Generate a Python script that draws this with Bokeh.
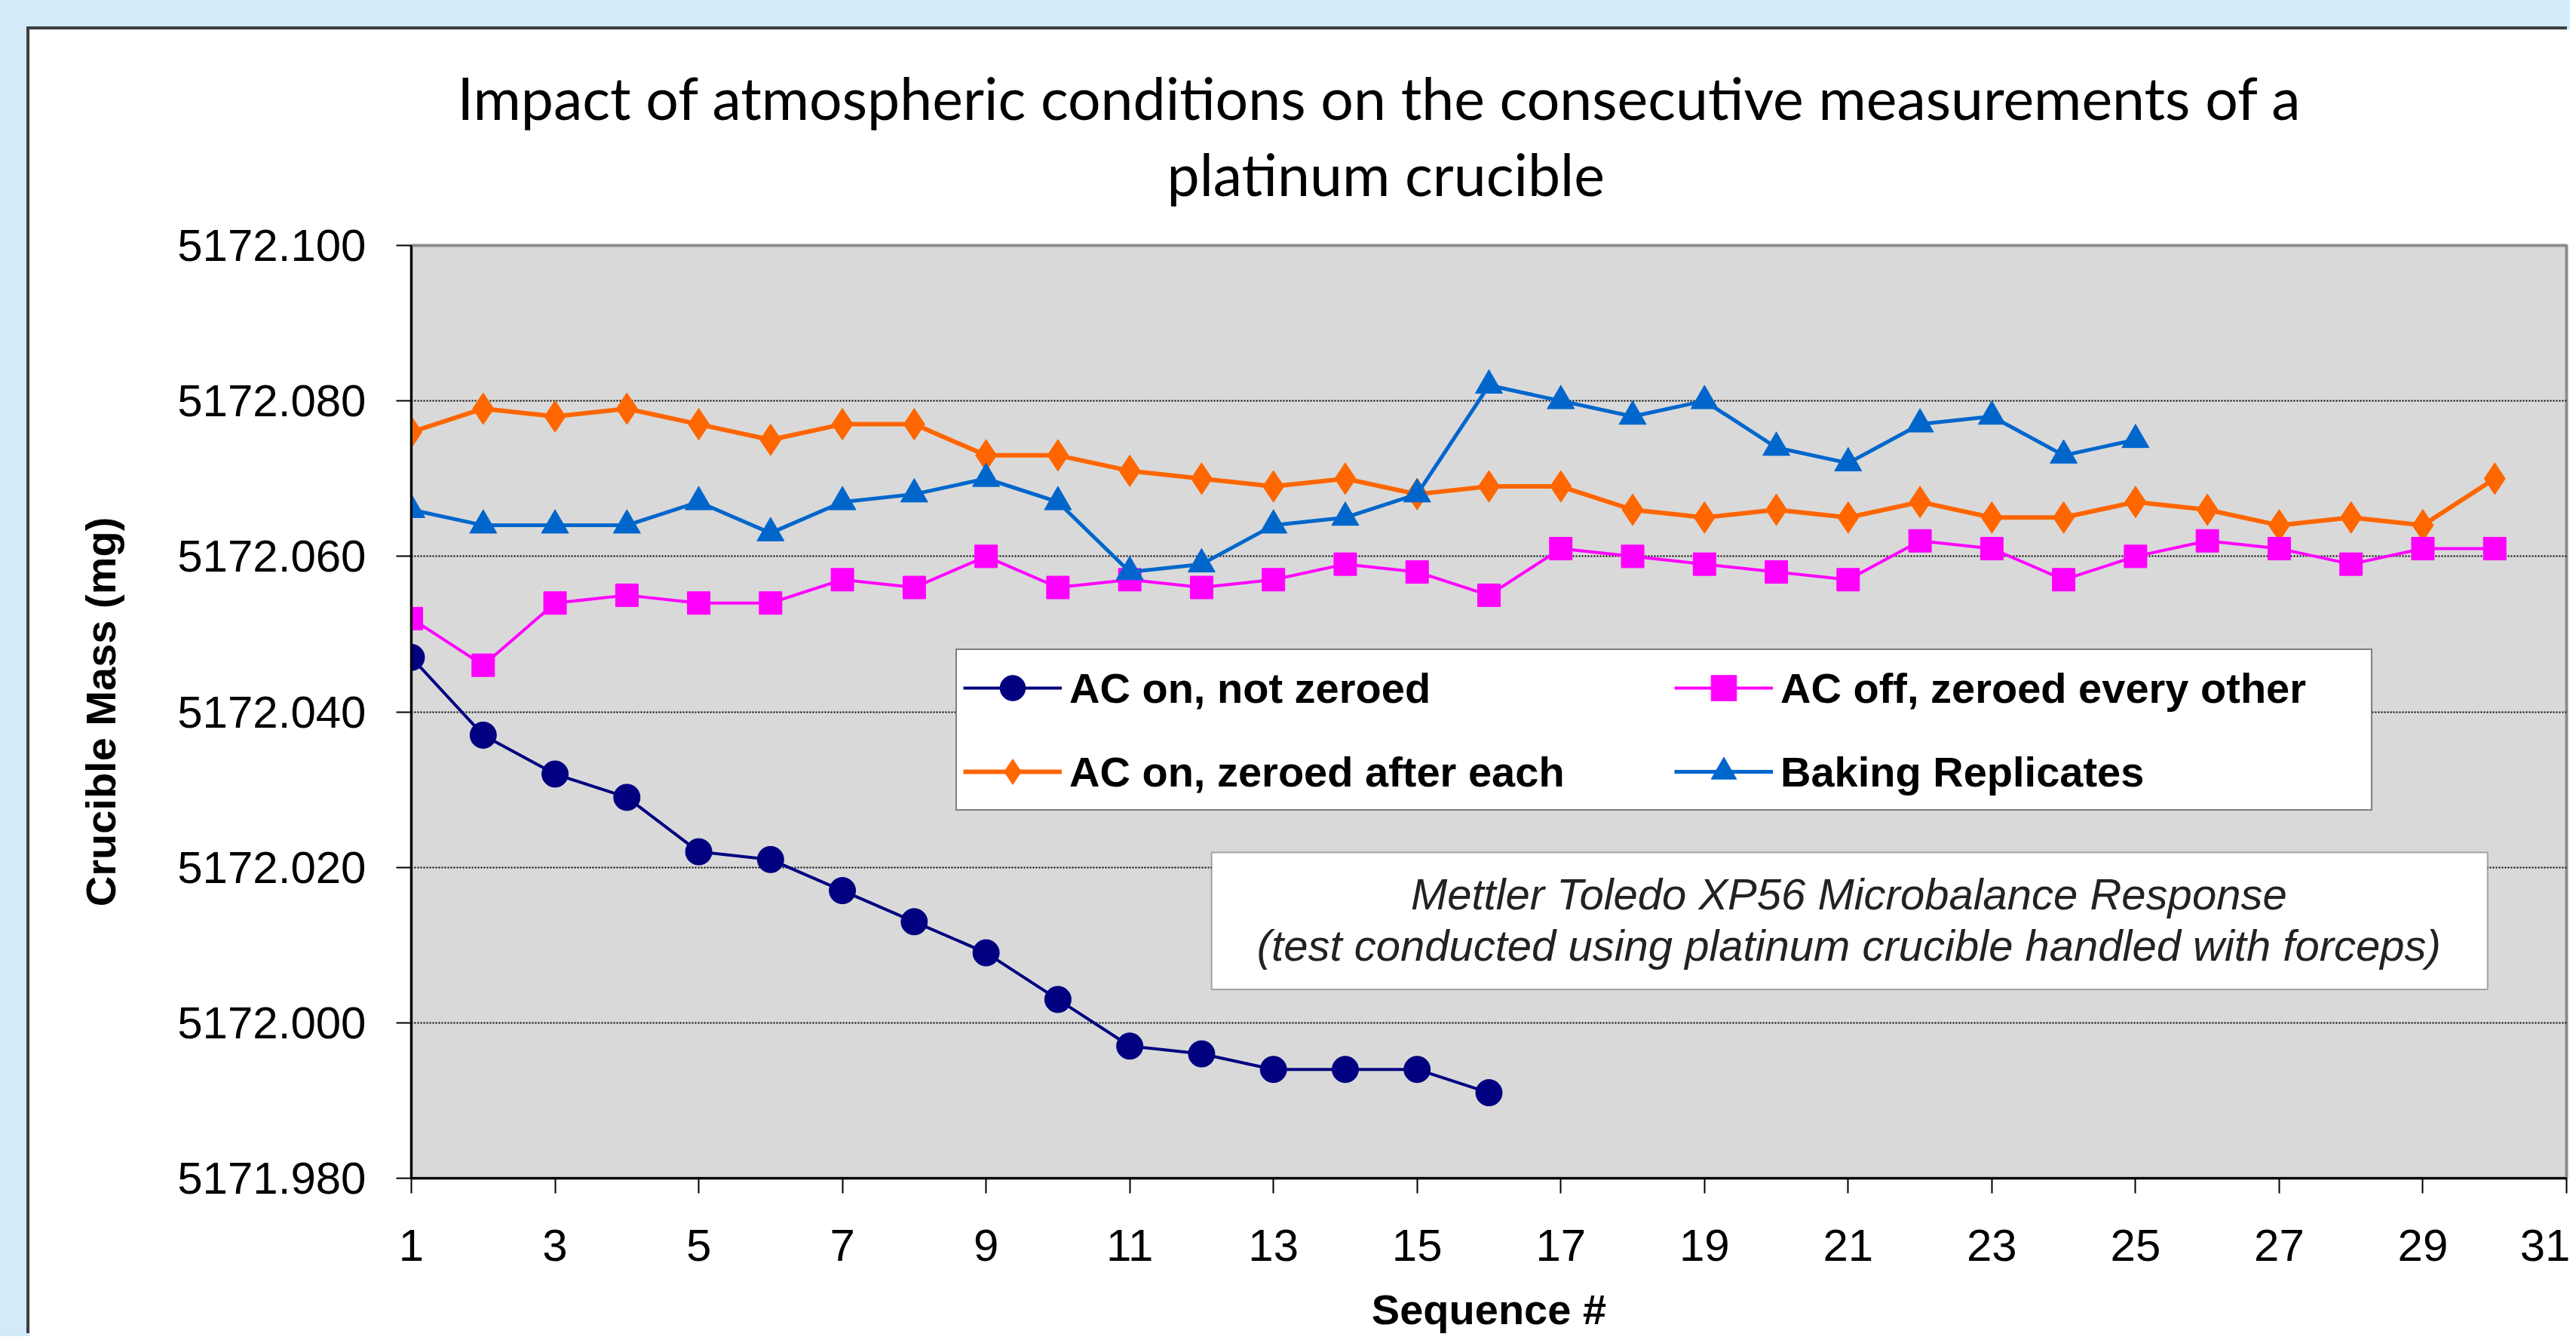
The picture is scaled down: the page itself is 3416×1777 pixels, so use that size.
from bokeh.plotting import figure
from bokeh.models import (FixedTicker, NumeralTickFormatter, Legend, LegendItem, Label,
                          BoxAnnotation, Range1d, Spacer, Title)
from bokeh.layouts import column, row
from bokeh.embed import file_html
from bokeh.resources import INLINE

# ---------------- data ----------------
seq_16 = [1, 2, 3, 4, 5, 6, 7, 8, 9, 10, 11, 12, 13, 14, 15, 16]
seq_25 = [1, 2, 3, 4, 5, 6, 7, 8, 9, 10, 11, 12, 13, 14, 15, 16, 17, 18, 19, 20, 21, 22, 23, 24, 25]
seq_30 = [1, 2, 3, 4, 5, 6, 7, 8, 9, 10, 11, 12, 13, 14, 15, 16, 17, 18, 19, 20,
          21, 22, 23, 24, 25, 26, 27, 28, 29, 30]

ac_on_not_zeroed = [5172.047, 5172.037, 5172.032, 5172.029, 5172.022, 5172.021, 5172.017, 5172.013,
                    5172.009, 5172.003, 5171.997, 5171.996, 5171.994, 5171.994, 5171.994, 5171.991]

ac_on_zeroed_each = [5172.076, 5172.079, 5172.078, 5172.079, 5172.077, 5172.075, 5172.077, 5172.077,
                     5172.073, 5172.073, 5172.071, 5172.070, 5172.069, 5172.070, 5172.068, 5172.069,
                     5172.069, 5172.066, 5172.065, 5172.066, 5172.065, 5172.067, 5172.065, 5172.065,
                     5172.067, 5172.066, 5172.064, 5172.065, 5172.064, 5172.070]

ac_off_zeroed_other = [5172.052, 5172.046, 5172.054, 5172.055, 5172.054, 5172.054, 5172.057, 5172.056,
                       5172.060, 5172.056, 5172.057, 5172.056, 5172.057, 5172.059, 5172.058, 5172.055,
                       5172.061, 5172.060, 5172.059, 5172.058, 5172.057, 5172.062, 5172.061, 5172.057,
                       5172.060, 5172.062, 5172.061, 5172.059, 5172.061, 5172.061]

baking_replicates = [5172.066, 5172.064, 5172.064, 5172.064, 5172.067, 5172.063, 5172.067, 5172.068,
                     5172.070, 5172.067, 5172.058, 5172.059, 5172.064, 5172.065, 5172.068, 5172.082,
                     5172.080, 5172.078, 5172.080, 5172.074, 5172.072, 5172.077, 5172.078, 5172.073,
                     5172.075]

x_ticks = [1, 3, 5, 7, 9, 11, 13, 15, 17, 19, 21, 23, 25, 27, 29, 31]
y_ticks = [5171.98, 5172.00, 5172.02, 5172.04, 5172.06, 5172.08, 5172.10]

title_line1 = "Impact of atmospheric conditions on the consecutive measurements of a"
title_line2 = "platinum crucible"
note_line1 = "Mettler Toledo XP56 Microbalance Response"
note_line2 = "(test conducted using platinum crucible handled with forceps)"

# ---------------- figure ----------------
p = figure(frame_width=2858, frame_height=1237,
           min_border_left=506, min_border_top=286, min_border_right=5, min_border_bottom=210,
           x_range=Range1d(1, 31), y_range=Range1d(5171.98, 5172.10),
           output_backend="svg", toolbar_location=None,
           background_fill_color="#D9D9D9", border_fill_color="white")
p.styles = {"box-shadow": "-4px -4px 0px 0px #3f3f3f"}

p.outline_line_color = "#8c8c8c"
p.outline_line_width = 4

p.xgrid.visible = False
p.ygrid.grid_line_color = "black"
p.ygrid.grid_line_dash = "2 2"
p.ygrid.grid_line_width = 2

p.xaxis.ticker = FixedTicker(ticks=x_ticks)
p.yaxis.ticker = FixedTicker(ticks=y_ticks)
p.yaxis.formatter = NumeralTickFormatter(format="0.000")

for ax in (p.xaxis, p.yaxis):
    ax.axis_line_color = "black"
    ax.axis_line_width = 3
    ax.major_tick_line_color = "black"
    ax.major_tick_line_width = 2
    ax.major_tick_out = 20
    ax.major_tick_in = 0
    ax.minor_tick_out = 0
    ax.minor_tick_in = 0
    ax.major_label_text_font = "Liberation Sans"
    ax.major_label_text_font_size = "60px"
    ax.major_label_text_color = "black"
    ax.axis_label_text_font = "Liberation Sans"
    ax.axis_label_text_font_style = "bold"
    ax.axis_label_text_font_size = "56px"
    ax.axis_label_text_color = "black"

p.xaxis.axis_label = "Sequence #"
p.yaxis.axis_label = "Crucible Mass (mg)"
p.xaxis.major_label_standoff = 48
p.xaxis.axis_label_standoff = 30
p.yaxis.major_label_standoff = 40
p.yaxis.axis_label_standoff = 67

# ---------------- title (two lines; first added sits nearest the plot) ----------------
p.add_layout(Title(text=" ", standoff=42, text_font_size="2px"), "above")
p.add_layout(Title(text=title_line2, align="left", offset=1002, standoff=7,
                   text_font="Lato", text_font_size="77px", text_font_style="normal",
                   text_color="black"), "above")
p.add_layout(Title(text=title_line1, align="left", offset=61, standoff=7,
                   text_font="Lato", text_font_size="77px", text_font_style="normal",
                   text_color="black"), "above")

# ---------------- series ----------------
navy, orange, magenta, blue = "#000080", "#FF6600", "#FF00FF", "#0066CC"

l1 = p.line(seq_16, ac_on_not_zeroed, line_color=navy, line_width=4)
s1 = p.scatter(seq_16, ac_on_not_zeroed, marker="circle", size=35, fill_color=navy, line_color=navy)

l2 = p.line(seq_30, ac_on_zeroed_each, line_color=orange, line_width=6)
s2 = p.scatter(seq_30, ac_on_zeroed_each, marker="diamond", size=42, fill_color=orange, line_color=orange)

l3 = p.line(seq_30, ac_off_zeroed_other, line_color=magenta, line_width=4)
s3 = p.scatter(seq_30, ac_off_zeroed_other, marker="square", size=30, fill_color=magenta, line_color=magenta)

l4 = p.line(seq_25, baking_replicates, line_color=blue, line_width=5)
s4 = p.scatter(seq_25, baking_replicates, marker="triangle", size=36, fill_color=blue, line_color=blue)

# ---------------- legend ----------------
legend = Legend(items=[
    LegendItem(label="AC on, not zeroed", renderers=[l1, s1]),
    LegendItem(label="AC off, zeroed every other", renderers=[l3, s3]),
    LegendItem(label="AC on, zeroed after each", renderers=[l2, s2]),
    LegendItem(label="Baking Replicates", renderers=[l4, s4]),
], ncols=2, orientation="horizontal", location=(722, 487),
    label_text_font="Liberation Sans", label_text_font_style="bold", label_text_font_size="56px",
    label_text_color="black",
    glyph_width=131, glyph_height=84, label_standoff=10, spacing=27, padding=8,
    label_width=775,
    border_line_color="black", border_line_width=2,
    background_fill_color="white", background_fill_alpha=1.0)
p.add_layout(legend)

# ---------------- note box ----------------
p.add_layout(BoxAnnotation(left=12.14, right=29.90, bottom=5172.0043, top=5172.0219,
                           fill_color="white", fill_alpha=1.0, line_color="black", line_width=2))
p.add_layout(Label(x=21.01, y=5172.0166, text=note_line1, text_align="center", text_baseline="middle",
                   text_font="Liberation Sans", text_font_style="italic", text_font_size="58px",
                   text_color="#222222"))
p.add_layout(Label(x=21.01, y=5172.0100, text=note_line2, text_align="center", text_baseline="middle",
                   text_font="Liberation Sans", text_font_style="italic", text_font_size="58px",
                   text_color="#222222"))

layout = column(Spacer(width=3400, height=39),
                row(Spacer(width=39, height=1700), p),
                styles={"background-color": "#D3EBF9"})

open("out.html", "w").write(file_html(layout, INLINE))
